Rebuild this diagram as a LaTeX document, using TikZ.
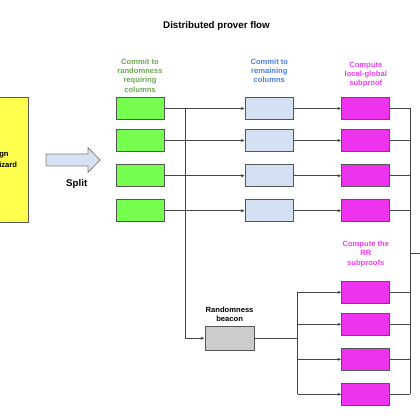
\documentclass[tikz,border=0pt]{standalone}
\usepackage{fontspec}
\setmainfont{Liberation Sans}
\usetikzlibrary{arrows.meta}
\definecolor{boxline}{HTML}{555555}
\definecolor{wireline}{HTML}{444444}
\definecolor{yelfill}{HTML}{FFFF4D}
\definecolor{grnfill}{HTML}{77FF4F}
\definecolor{bluefill}{HTML}{D4E1F2}
\definecolor{magfill}{HTML}{EE33EE}
\definecolor{grayfill}{HTML}{CCCCCC}
\definecolor{grntext}{HTML}{6AA84F}
\definecolor{bluetext}{HTML}{4A7FE0}
\definecolor{magtext}{HTML}{F03CF0}
\definecolor{splitfill}{HTML}{D6E2F3}
\begin{document}
\begin{tikzpicture}[x=0.75pt,y=-0.75pt,
  boxnode/.style={draw=boxline, line width=0.7pt, minimum width=36pt, minimum height=16.5pt, inner sep=0pt},
  gbox/.style={boxnode, fill=grnfill},
  bbox/.style={boxnode, fill=bluefill},
  mbox/.style={boxnode, fill=magfill},
  lbl/.style={align=center, inner sep=0pt, font=\bfseries\fontsize{5.7}{7}\selectfont},
  wire/.style={draw=wireline, line width=0.5pt},
  arr/.style={wire, -{Latex[length=2.6pt,width=2.4pt]}}]
\useasboundingbox (0,0) rectangle (420,420);
\clip (0,0) rectangle (420,420);

% title
\node[font=\bfseries\fontsize{7.3}{9}\selectfont] (title) at (216.5,26) {Distributed prover flow};

% yellow box (cut at left edge)
\node[draw=boxline, line width=0.7pt, fill=yelfill, anchor=north east, minimum width=60pt, minimum height=93pt, inner sep=0pt] (wiz) at (29,97.5) {};
\node[lbl, anchor=west] (wizt1) at (-1,155.3) {gn};
\node[lbl, anchor=west] (wizt2) at (-1,164.5) {izard};

% split arrow
\draw[draw=gray, line width=0.6pt, fill=splitfill] (46,154)--(88,154)--(88,147.7)--(100,160)--(88,172.3)--(88,166)--(46,166)--cycle;
\node[font=\bfseries\fontsize{7.3}{9}\selectfont] (split) at (76.7,184) {Split};

% labels
\node[lbl, text=grntext] (lg) at (140,75.3) {Commit to\\randomness\\requiring\\columns};
\node[lbl, text=bluetext] (lb) at (269.3,70.7) {Commit to\\remaining\\columns};
\node[lbl, text=magtext] (lm) at (365.8,74.7) {Compute\\local-global\\subproof};
\node[lbl, text=magtext] (lr) at (365.8,254) {Compute the\\RR\\subproofs};
\node[lbl] (lbeacon) at (229.6,314.5) {Randomness\\beacon};

% rows
\foreach \i/\y in {1/108.5, 2/140.5, 3/175.7, 4/210.7} {
  \node[gbox] (g\i) at (140,\y) {};
  \node[bbox] (b\i) at (269.3,\y) {};
  \node[mbox] (m\i) at (365.8,\y) {};
}
\foreach \i/\y in {1/292.3, 2/324.3, 3/359.3, 4/394.3} {
  \node[mbox] (r\i) at (365.8,\y) {};
}
\node[boxnode, fill=grayfill, minimum width=36.75pt, minimum height=18.5pt] (beacon) at (229.5,338.3) {};

% bus coordinates
\coordinate (vx) at (185,0);
\coordinate (cx) at (297.7,0);
\coordinate (bx) at (410,0);
\coordinate (out) at (421,253);

% connectors
\foreach \i in {1,...,4} {
  \draw[arr] (g\i.east) -- (b\i.west);
  \draw[arr] (b\i.east) -- (m\i.west);
  \draw[wire] (m\i.east) -- (m\i.east -| bx);
  \draw[wire] (r\i.east) -- (r\i.east -| bx);
  \draw[arr] (r\i.west -| cx) -- (r\i.west);
}
\draw[arr] (g1.east -| vx) |- (beacon.west);
\draw[wire] (beacon.east) -- (beacon.east -| cx);
\draw[wire] (r1.west -| cx) -- (r4.west -| cx);
\draw[wire] (m1.east -| bx) -- (r4.east -| bx);
\draw[wire] (out -| bx) -- (out);
\end{tikzpicture}
\end{document}
